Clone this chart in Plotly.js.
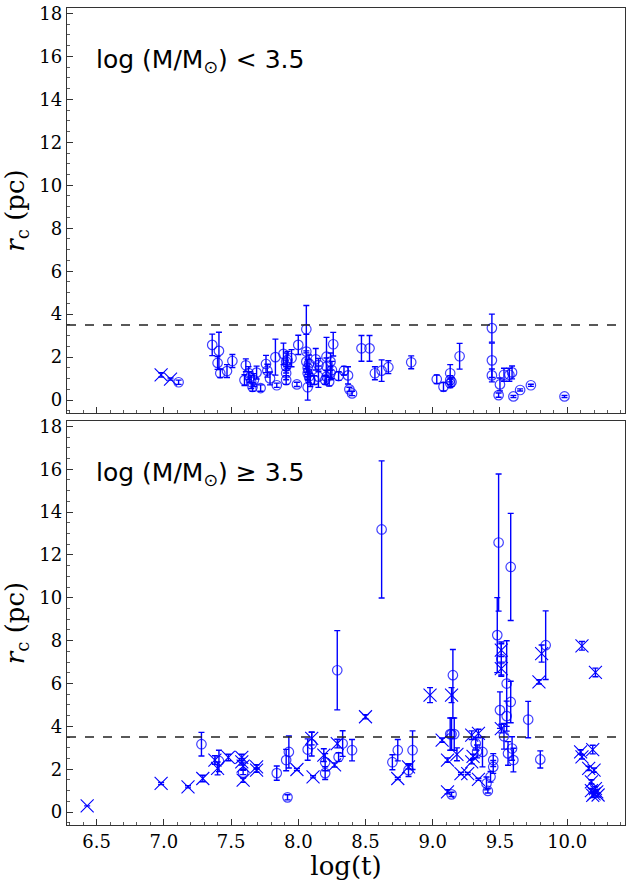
<!DOCTYPE html>
<html>
<head>
<meta charset="utf-8">
<script src="https://cdn.plot.ly/plotly-3.0.1.min.js"></script>
<style>html,body{margin:0;padding:0;background:#fff;}#chart{width:630px;height:881px;}</style>
</head>
<body>
<div id="chart"></div>
<script>
// ---- Data ----
const threshold = 3.5;

// Top panel: log(M/Msun) < 3.5
const lowCircX = [7.11,7.36,7.41,7.40,7.42,7.47,7.51,7.61,7.60,7.63,7.64,7.65,7.66,7.67,7.69,7.72,7.76,7.77,7.79,7.83,7.84,7.89,7.91,7.91,7.91,7.91,7.92,7.95,7.99,8.00,8.06,8.06,8.06,8.07,8.08,8.07,8.08,8.07,8.09,8.12,8.13,8.15,8.15,8.20,8.21,8.21,8.21,8.23,8.24,8.25,8.24,8.26,8.30,8.34,8.37,8.38,8.40,8.47,8.53,8.57,8.62,8.67,8.84,9.03,9.08,9.13,9.13,9.14,9.13,9.20,9.44,9.44,9.44,9.49,9.50,9.53,9.57,9.59,9.60,9.65,9.73,9.98];
const lowCircY = [0.83,2.57,2.29,1.73,1.25,1.35,1.82,1.62,0.93,1.26,1.07,0.84,0.61,0.93,1.28,0.56,1.68,1.37,1.01,2.00,0.69,2.15,1.79,1.56,1.25,0.93,1.87,1.95,0.73,2.57,3.30,2.26,1.79,1.50,1.70,1.25,1.10,0.60,0.93,0.93,1.90,1.64,1.09,0.93,2.02,1.56,1.09,0.86,1.79,1.40,1.25,2.60,1.12,1.37,1.15,0.50,0.31,2.41,2.41,1.25,1.37,1.53,1.76,0.97,0.62,1.25,0.93,0.84,0.78,2.04,3.35,1.85,1.15,0.23,0.73,1.18,1.18,1.29,0.17,0.47,0.69,0.17];
const lowCircErr = [0.10,0.50,0.87,0.30,0.20,0.30,0.30,0.30,0.25,0.30,0.25,0.30,0.20,0.30,0.30,0.15,0.40,0.30,0.30,0.84,0.10,0.50,0.40,0.30,0.30,0.20,0.40,0.40,0.10,0.45,1.10,0.80,0.50,0.40,0.40,0.30,0.30,0.60,0.30,0.20,0.50,0.30,0.50,0.20,0.90,0.40,0.30,0.20,0.40,0.40,0.30,0.55,0.20,0.20,0.40,0.10,0.10,0.60,0.60,0.30,0.50,0.30,0.30,0.20,0.20,0.40,0.20,0.20,0.20,0.60,0.65,0.80,0.30,0.10,0.30,0.30,0.30,0.30,0.05,0.05,0.05,0.05];
const lowCrossX = [6.98,7.05];
const lowCrossY = [1.17,0.98];
const lowCrossErr = [0.10,0.05];

// Bottom panel: log(M/Msun) >= 3.5
const highCircX = [7.28,7.41,7.59,7.84,7.91,7.93,7.92,8.07,8.10,8.20,8.20,8.30,8.33,8.40,8.29,8.62,8.70,8.74,8.82,8.85,9.13,9.14,9.16,9.15,9.14,9.32,9.33,9.37,9.40,9.41,9.43,9.45,9.45,9.49,9.48,9.51,9.55,9.50,9.55,9.58,9.58,9.53,9.56,9.59,9.60,9.71,9.80,9.84];
const highCircY = [3.17,2.39,1.85,1.82,2.43,2.81,0.69,2.92,3.17,2.33,1.82,2.57,3.20,2.89,6.62,13.19,2.33,2.89,1.96,2.89,3.64,3.64,3.64,6.39,0.83,3.20,2.83,2.81,1.34,0.99,1.65,2.43,2.11,12.58,8.26,7.14,6.00,4.76,4.48,5.14,11.44,3.54,2.74,2.97,2.43,4.32,2.46,7.79];
const highCircErrUp = [0.55,0.50,0.10,0.33,0.50,0.75,0.12,0.50,0.55,0.40,0.30,0.20,0.60,0.50,1.85,3.20,0.35,0.50,0.30,0.90,0.75,0.75,0.75,1.20,0.10,0.30,0.30,0.70,0.30,0.10,0.25,0.30,0.30,3.20,1.75,0.80,2.00,0.85,0.70,0.97,2.50,0.60,0.55,0.55,0.55,0.85,0.40,1.60];
const highCircErrDown = [0.55,0.50,0.10,0.33,0.50,0.75,0.12,0.50,0.55,0.40,0.30,0.20,0.60,0.50,1.85,3.20,0.35,0.50,0.30,0.90,0.75,0.75,0.75,2.00,0.10,0.30,0.30,0.70,0.30,0.10,0.25,0.30,0.30,3.20,1.75,0.80,2.00,0.85,0.70,0.97,2.50,0.60,0.55,0.55,0.55,0.85,0.40,1.60];
const highCrossX = [6.43,6.98,7.18,7.29,7.38,7.40,7.48,7.58,7.58,7.59,7.59,7.69,7.69,7.99,8.10,8.11,8.19,8.27,8.29,8.50,8.74,8.82,8.98,9.14,9.07,9.11,9.11,9.18,9.21,9.26,9.29,9.30,9.29,9.34,9.34,9.51,9.51,9.51,9.79,9.81,10.10,10.11,10.19,10.16,10.20,10.18,10.18,10.20,10.22,10.23,10.19,10.21,10.11,10.21];
const highCrossY = [0.29,1.34,1.18,1.57,2.43,2.04,2.55,2.55,2.35,2.15,1.49,2.11,1.96,1.99,3.44,1.65,2.66,2.20,3.20,4.45,1.57,2.11,5.46,5.46,3.36,2.43,0.95,2.70,1.80,1.80,2.35,2.60,3.59,3.67,1.53,7.56,6.70,3.90,6.08,7.40,2.81,2.58,2.92,2.04,1.96,1.41,1.00,0.85,0.95,0.80,0.78,1.10,7.76,6.52];
const highCrossErr = [0.00,0.05,0.05,0.15,0.20,0.30,0.15,0.15,0.15,0.15,0.10,0.10,0.10,0.05,0.30,0.05,0.30,0.10,0.20,0.10,0.05,0.10,0.35,0.35,0.10,0.10,0.10,0.30,0.05,0.05,0.10,0.10,0.20,0.20,0.05,0.30,0.30,0.20,0.10,0.40,0.10,0.10,0.20,0.10,0.10,0.10,0.10,0.10,0.10,0.10,0.10,0.10,0.20,0.20];

const xTickVals = [6.5,7.0,7.5,8.0,8.5,9.0,9.5,10.0];
const xTickText = ['6.5','7.0','7.5','8.0','8.5','9.0','9.5','10.0'];
const yTickVals = [0,2,4,6,8,10,12,14,16,18];
const yTickText = ['0','2','4','6','8','10','12','14','16','18'];

// ---- Styles ----
const BLUE = '#0000ff';
const serif = '"DejaVu Serif", "Liberation Serif", serif';
function circleTrace(x, y, up, down, xa, ya) {
  return {
    type: 'scatter', mode: 'markers', x: x, y: y, xaxis: xa, yaxis: ya,
    marker: {symbol: 'circle-open', size: 9.5, color: 'rgba(0,0,255,0.75)', line: {width: 1.2, color: 'rgba(0,0,255,0.75)'}},
    error_y: {type: 'data', symmetric: false, array: up, arrayminus: down, visible: true, color: BLUE, thickness: 1.4, width: 3},
    showlegend: false, hoverinfo: 'x+y'
  };
}
function crossTrace(x, y, err, xa, ya) {
  return {
    type: 'scatter', mode: 'markers', x: x, y: y, xaxis: xa, yaxis: ya,
    marker: {symbol: 'x-thin-open', size: 13, color: BLUE, line: {width: 1.1, color: BLUE}},
    error_y: {type: 'data', array: err, visible: true, color: BLUE, thickness: 1.4, width: 3},
    showlegend: false, hoverinfo: 'x+y'
  };
}

const data = [
  circleTrace(lowCircX, lowCircY, lowCircErr, lowCircErr, 'x', 'y'),
  crossTrace(lowCrossX, lowCrossY, lowCrossErr, 'x', 'y'),
  circleTrace(highCircX, highCircY, highCircErrUp, highCircErrDown, 'x2', 'y2'),
  crossTrace(highCrossX, highCrossY, highCrossErr, 'x2', 'y2')
];

const xRange = [6.28, 10.43];
const yRange = [-0.6, 18.25];
function xAxis(showLabels, anchor, title) {
  const a = {
    anchor: anchor, range: xRange, domain: [0, 1],
    showline: true, mirror: true, linecolor: '#333', linewidth: 1.2,
    ticks: 'inside', ticklen: 6, tickwidth: 1, tickcolor: '#333',
    tickvals: xTickVals, ticktext: xTickText, showticklabels: showLabels,
    minor: {dtick: 0.1, ticks: 'inside', ticklen: 3, tickcolor: '#333', tickwidth: 0.8, showgrid: false},
    showgrid: false, zeroline: false,
    tickfont: {family: serif, size: 18, color: '#000'}
  };
  if (title) a.title = {text: title, font: {family: serif, size: 26, color: '#000'}, standoff: 4};
  return a;
}
function yAxis(domain, anchor) {
  return {
    anchor: anchor, range: yRange, domain: domain,
    showline: true, mirror: true, linecolor: '#333', linewidth: 1.2,
    ticks: 'inside', ticklen: 6, tickwidth: 1, tickcolor: '#333',
    tickvals: yTickVals, ticktext: yTickText,
    minor: {dtick: 0.5, ticks: 'inside', ticklen: 3, tickcolor: '#333', tickwidth: 0.8, showgrid: false},
    showgrid: false, zeroline: false,
    tickfont: {family: serif, size: 18, color: '#000'},
    title: {text: '<i>r</i><sub>c</sub> (pc)', font: {family: serif, size: 26, color: '#000'}, standoff: 10}
  };
}

const layout = {
  width: 630, height: 881,
  margin: {l: 67, r: 5, t: 8, b: 56},
  paper_bgcolor: '#fff', plot_bgcolor: '#fff',
  xaxis: xAxis(false, 'y', null),
  yaxis: yAxis([0.5043, 1], 'x'),
  xaxis2: xAxis(true, 'y2', 'log(t)'),
  yaxis2: yAxis([0, 0.4945], 'x2'),
  shapes: [
    {type: 'line', xref: 'x domain', yref: 'y', x0: 0, x1: 1, y0: threshold, y1: threshold, line: {color: '#222', width: 1.5, dash: 'dash'}},
    {type: 'line', xref: 'x2 domain', yref: 'y2', x0: 0, x1: 1, y0: threshold, y1: threshold, line: {color: '#222', width: 1.5, dash: 'dash'}}
  ],
  annotations: [
    {text: 'log (M/M<sub>⊙</sub>) &lt; 3.5', xref: 'x domain', yref: 'y domain', x: 0.048, y: 0.868, xanchor: 'left', yanchor: 'middle', showarrow: false, font: {family: 'DejaVu Sans', size: 25, color: '#000'}},
    {text: 'log (M/M<sub>⊙</sub>) ≥ 3.5', xref: 'x2 domain', yref: 'y2 domain', x: 0.048, y: 0.870, xanchor: 'left', yanchor: 'middle', showarrow: false, font: {family: 'DejaVu Sans', size: 25, color: '#000'}}
  ]
};

Plotly.newPlot('chart', data, layout, {displayModeBar: false, staticPlot: true});
</script>
</body>
</html>
